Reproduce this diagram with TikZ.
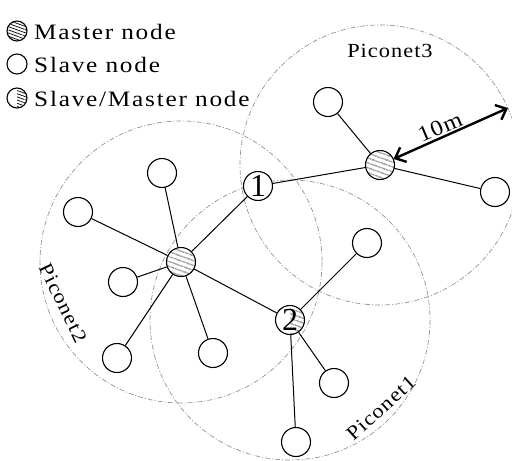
\documentclass[tikz,border=0pt]{standalone}
\usepackage{fontspec}
\setmainfont{Liberation Serif}
\newfontfamily\legendfont{Liberation Serif}[FakeStretch=1.15,LetterSpace=8]
\newfontfamily\namefont{Liberation Serif}[FakeStretch=1.12,LetterSpace=5]
\usetikzlibrary{patterns.meta,arrows.meta}

\begin{document}
\begin{tikzpicture}[x=1pt,y=-1pt,
  hatch/.style={pattern={Lines[angle=-20,distance=#1,line width=0.7pt]}},
  dev/.style={circle,draw,line width=1.1pt,minimum size=29pt,inner sep=0pt,fill=white},
  slave/.style={dev},
  master/.style={dev,hatch=4pt},
  digit/.style={font=\fontsize{32}{32}\selectfont},
  relay/.style={dev,digit,
    path picture={\fill[hatch=4pt] (path picture bounding box.north)
      rectangle (path picture bounding box.south east);}},
  icon/.style={circle,draw,line width=1.1pt,minimum size=20pt,inner sep=0pt},
  rangecircle/.style={draw=black!42,line width=0.7pt,
    dash pattern=on 5pt off 2pt on 1pt off 2pt},
  link/.style={line width=1pt},
  pname/.style={font=\namefont\fontsize{20}{23}\selectfont,inner sep=0pt},
  legend/.style={font=\legendfont\fontsize{22}{25}\selectfont,inner sep=0pt,anchor=west},
]
\useasboundingbox (0,0) rectangle (512,461);

% radio ranges of the three piconets
\draw[rangecircle] (181,262) circle[radius=141];
\draw[rangecircle] (290,320) circle[radius=140];
\draw[rangecircle] (380,165) circle[radius=140];

% piconet names
\node[pname,rotate=-64] (p2name) at (63,303) {Piconet2};
\node[pname,rotate=42]  (p1name) at (381,408) {Piconet1};
\node[pname]            (p3name) at (390,51)  {Piconet3};

% masters and bridge nodes
\node[master] (m3) at (380,165) {};
\node[master] (m2) at (181,262) {};
\node[dev,digit] (n1) at (258,186) {1};
\node[relay]  (n2) at (290,320) {2};

% slaves
\node[slave] (s3a) at (328,102) {};
\node[slave] (s3b) at (495,192) {};
\node[slave] (s2a) at (162,173) {};
\node[slave] (s2b) at (78,212)  {};
\node[slave] (s2c) at (123,282) {};
\node[slave] (s2d) at (117,358) {};
\node[slave] (s2e) at (213,353) {};
\node[slave] (s1a) at (367,243) {};
\node[slave] (s1b) at (334,383) {};
\node[slave] (s1c) at (296,442) {};

% links
\foreach \a/\b in {m3/s3a,m3/s3b,m3/n1,
                   m2/n1,m2/s2a,m2/s2b,m2/s2c,m2/s2d,m2/s2e,m2/n2,
                   n2/s1a,n2/s1b,n2/s1c}
  \draw[link] (\a) -- (\b);

% range marker
\coordinate (rim) at (508,108);
\draw[line width=2.4pt,{Straight Barb[length=9pt,width=16pt]}-{Straight Barb[length=9pt,width=16pt]}]
  (m3) -- (rim);
\node[font=\namefont\fontsize{22}{24}\selectfont,rotate=23,inner sep=0pt] (range) at (440,127) {10m};

% legend
\node[icon,hatch=3pt] (lm) at (17,31) {};
\node[icon]           (ls) at (17,64) {};
\node[icon,path picture={\fill[hatch=3pt] (path picture bounding box.north)
      rectangle (path picture bounding box.south east);}] (lr) at (17,98) {};
\node[legend] (lmt) at (34,32) {Master node};
\node[legend] (lst) at (34,65) {Slave node};
\node[legend] (lrt) at (34,99) {Slave/Master node};
\end{tikzpicture}
\end{document}
